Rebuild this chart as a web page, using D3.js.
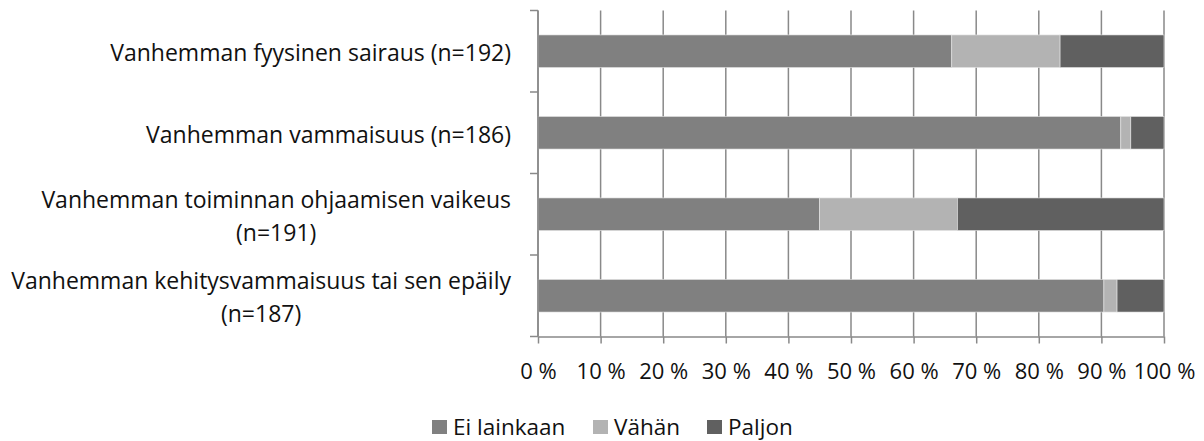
<!DOCTYPE html>
<html>
<head>
<meta charset="utf-8">
<script src="https://cdn.jsdelivr.net/npm/d3@7"></script>
<style>
  body { margin: 0; background: #fff; }
  svg text { font-family: "Open Sans", Lato, sans-serif; fill: #111; }
</style>
</head>
<body>
<div id="chart"></div>
<script>
// data
var categories = [
	["Vanhemman fyysinen sairaus (n=192)"],
	["Vanhemman vammaisuus (n=186)"],
	["Vanhemman toiminnan ohjaamisen vaikeus", "(n=191)"],
	["Vanhemman kehitysvammaisuus tai sen epäily", "(n=187)"]
];
var seriesNames = ["Ei lainkaan", "Vähän", "Paljon"];
var eiLainkaan = [66.1, 93.1, 45.0, 90.4];
var vahan      = [17.3, 1.6, 22.0, 2.1];
var paljon     = [16.6, 5.3, 33.0, 7.5];
var xTicks = [0, 10, 20, 30, 40, 50, 60, 70, 80, 90, 100];
var colors = ["#808080", "#b3b3b3", "#606060"];

var svgWidth = 1204, svgHeight = 441;
var svg = d3.select("#chart").append("svg")
	.attr("width", svgWidth)
	.attr("height", svgHeight);

var plot = {left: 538, right: 1164, top: 10.5, bottom: 336.5};

var rows = categories.map(function(c, i) {
	return {key: i, label: c, values: [eiLainkaan[i], vahan[i], paljon[i]]};
});

var xScale = d3.scaleLinear().domain([0, 100]).range([plot.left, plot.right]);
var yScale = d3.scaleBand()
	.domain(rows.map(function(d) { return d.key; }))
	.range([plot.top, plot.bottom])
	.paddingInner(0.6)
	.paddingOuter(0.3);

var axisColor = "#898989";

//gridlines
svg.append("g")
	.selectAll("line")
	.data(xTicks)
	.enter().append("line")
	.attr("x1", function(d) { return xScale(d); })
	.attr("x2", function(d) { return xScale(d); })
	.attr("y1", plot.top)
	.attr("y2", plot.bottom)
	.style("stroke", axisColor)
	.style("stroke-width", 1.5);

// stacked bars
var stack = rows.map(function(r) {
	var x0 = 0;
	return r.values.map(function(v, j) {
		var seg = {row: r.key, s: j, x0: x0, x1: x0 + v};
		x0 += v;
		return seg;
	});
});

svg.append("g")
	.selectAll("g")
	.data(stack)
	.enter().append("g")
	.selectAll("rect")
	.data(function(d) { return d; })
	.enter().append("rect")
	.attr("x", function(d) { return xScale(d.x0); })
	.attr("width", function(d) { return xScale(d.x1) - xScale(d.x0); })
	.attr("y", function(d) { return yScale(d.row); })
	.attr("height", yScale.bandwidth())
	.style("fill", function(d) { return colors[d.s]; })
	.style("stroke", "#e6e6e6")
	.style("stroke-width", 0.6);

// left axis line + ticks at band edges
var yEdges = d3.range(rows.length + 1).map(function(i) {
	return plot.top + i * (plot.bottom - plot.top) / rows.length;
});
svg.append("line")
	.attr("x1", plot.left).attr("x2", plot.left)
	.attr("y1", plot.top).attr("y2", plot.bottom)
	.style("stroke", axisColor).style("stroke-width", 1.5);
svg.append("g")
	.selectAll("line")
	.data(yEdges)
	.enter().append("line")
	.attr("x1", plot.left - 8).attr("x2", plot.left)
	.attr("y1", function(d) { return d; })
	.attr("y2", function(d) { return d; })
	.style("stroke", axisColor).style("stroke-width", 1.5);

// bottom axis
var xAxis = svg.append("g")
	.attr("transform", "translate(0," + plot.bottom + ")")
	.call(d3.axisBottom(xScale)
		.tickValues(xTicks)
		.tickSize(7)
		.tickSizeOuter(0)
		.tickFormat(function(d) { return d + " %"; }));
xAxis.select(".domain").style("stroke", axisColor).style("stroke-width", 1.5);
xAxis.selectAll(".tick line").style("stroke", axisColor).style("stroke-width", 1.5);
xAxis.selectAll(".tick text")
	.attr("y", 42.5)
	.attr("dy", 0)
	.style("font-size", "22px")
	.style("font-family", "'Open Sans', sans-serif")
	.attr("fill", "#111");

// category labels, lines centred inside a right-aligned block
var labelRight = 511;
var lineH = 33;
rows.forEach(function(r) {
	var cy = yScale(r.key) + yScale.bandwidth() / 2;
	var g = svg.append("g");
	var texts = r.label.map(function(line, k) {
		return g.append("text")
			.attr("y", cy + 10 + (k - (r.label.length - 1) / 2) * lineH)
			.style("font-size", "23px")
			.style("text-anchor", "middle")
			.text(line);
	});
	var maxW = d3.max(texts, function(t) { return t.node().getComputedTextLength(); });
	texts.forEach(function(t) { t.attr("x", labelRight - maxW / 2); });
});

// legend
var legendX = [432, 593, 707];
var legend = svg.selectAll(".legend")
	.data(seriesNames)
	.enter().append("g")
	.attr("class", "legend")
	.attr("transform", function(d, i) { return "translate(" + legendX[i] + ",427)"; });

legend.append("rect")
	.attr("x", 0).attr("y", -7)
	.attr("width", 15).attr("height", 14)
	.style("fill", function(d, i) { return colors[i]; });

legend.append("text")
	.attr("x", 21)
	.attr("y", 8)
	.style("font-size", "22.5px")
	.text(function(d) { return d; });
</script>
</body>
</html>
